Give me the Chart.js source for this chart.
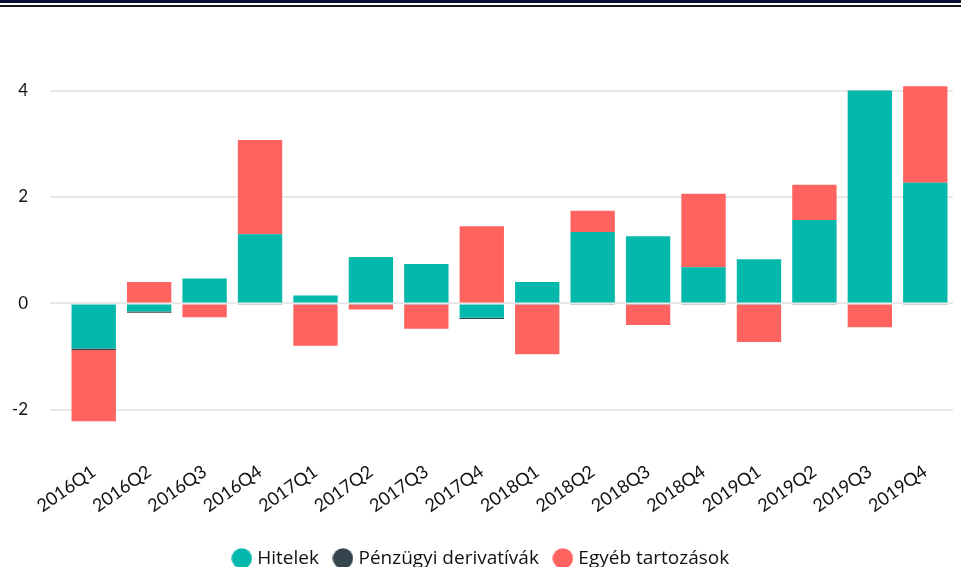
<!DOCTYPE html>
<html>
<head>
<meta charset="utf-8">
<script src="https://cdn.jsdelivr.net/npm/chart.js@4"></script>
<style>
  html, body { margin: 0; padding: 0; background: #fff; overflow: hidden; }
  .line1 { height: 3px; background: #0b0d35; }
  .line2 { height: 2px; background: #1a1a1a; margin-top: 2px; }
  #wrap { position: relative; width: 961px; height: 571px; }
</style>
</head>
<body>
<div class="line1"></div>
<div class="line2"></div>
<div id="wrap"><canvas id="myChart"></canvas></div>
<script>
// categories
const quarters = ['2016Q1','2016Q2','2016Q3','2016Q4','2017Q1','2017Q2','2017Q3','2017Q4',
                  '2018Q1','2018Q2','2018Q3','2018Q4','2019Q1','2019Q2','2019Q3','2019Q4'];

// series values
const hitelek     = [-0.85, -0.15, 0.47, 1.30, 0.15, 0.87, 0.74, -0.27, 0.40, 1.34, 1.26, 0.68, 0.83, 1.57, 4.00, 2.27];
const derivativak = [-0.025, -0.025, 0, -0.025, -0.025, -0.025, -0.025, -0.025, -0.025, -0.025, -0.025, -0.025, -0.025, -0.025, 0, -0.025];
const egyeb       = [-1.34, 0.40, -0.26, 1.77, -0.77, -0.09, -0.45, 1.45, -0.93, 0.40, -0.38, 1.38, -0.70, 0.66, -0.45, 1.81];

// y tick labels
const yTicks = [-2, 0, 2, 4];

const colors = ['#04b8ac', '#34454d', '#ff6360'];

// round legend dots drawn as small canvases (so the text can sit close to them)
function dot(color) {
    const c = document.createElement('canvas');
    c.width = 21; c.height = 21;
    const ctx = c.getContext('2d');
    ctx.fillStyle = color;
    ctx.beginPath();
    ctx.arc(10.5, 10.5, 10.2, 0, Math.PI * 2);
    ctx.fill();
    return c;
}
const dots = colors.map(dot);

const canvas = document.getElementById('myChart');
const myChart = new Chart(canvas, {
    type: 'bar',
    data: {
        labels: quarters,
        datasets: [
            { label: 'Hitelek', data: hitelek, backgroundColor: colors[0] },
            { label: 'Pénzügyi derivatívák', data: derivativak, backgroundColor: colors[1] },
            { label: 'Egyéb tartozások', data: egyeb, backgroundColor: colors[2] }
        ]
    },
    options: {
        responsive: true,
        maintainAspectRatio: false,
        animation: false,
        datasets: { bar: { barPercentage: 0.8, categoryPercentage: 1.0 } },
        layout: { padding: { left: 12, right: 8, top: 57, bottom: 0 } },
        scales: {
            x: {
                stacked: true,
                grid: { display: false },
                border: { display: false },
                afterFit: axis => { axis.height = 68; },
                ticks: {
                    minRotation: 35, maxRotation: 35, padding: -10,
                    color: '#111',
                    font: { family: 'Lato', size: 18 }
                }
            },
            y: {
                stacked: true,
                min: -3, max: 4.5,
                border: { display: false },
                grid: { color: '#e8e8e8', lineWidth: 2, tickLength: 16 },
                afterBuildTicks: axis => { axis.ticks = yTicks.map(v => ({ value: v })); },
                afterFit: axis => { axis.width = 54; },
                ticks: {
                    padding: 22,
                    color: '#111',
                    font: { family: 'Lato', size: 17 }
                }
            }
        },
        plugins: {
            legend: {
                position: 'bottom',
                labels: {
                    usePointStyle: true,
                    pointStyleWidth: 12,
                    boxHeight: 14,
                    padding: 18,
                    color: '#111',
                    font: { family: 'Open Sans', size: 19 },
                    generateLabels: chart =>
                        Chart.defaults.plugins.legend.labels.generateLabels(chart)
                            .map((item, i) => ({ ...item, pointStyle: dots[i] }))
                }
            },
            tooltip: { enabled: false }
        }
    }
});
</script>
</body>
</html>
